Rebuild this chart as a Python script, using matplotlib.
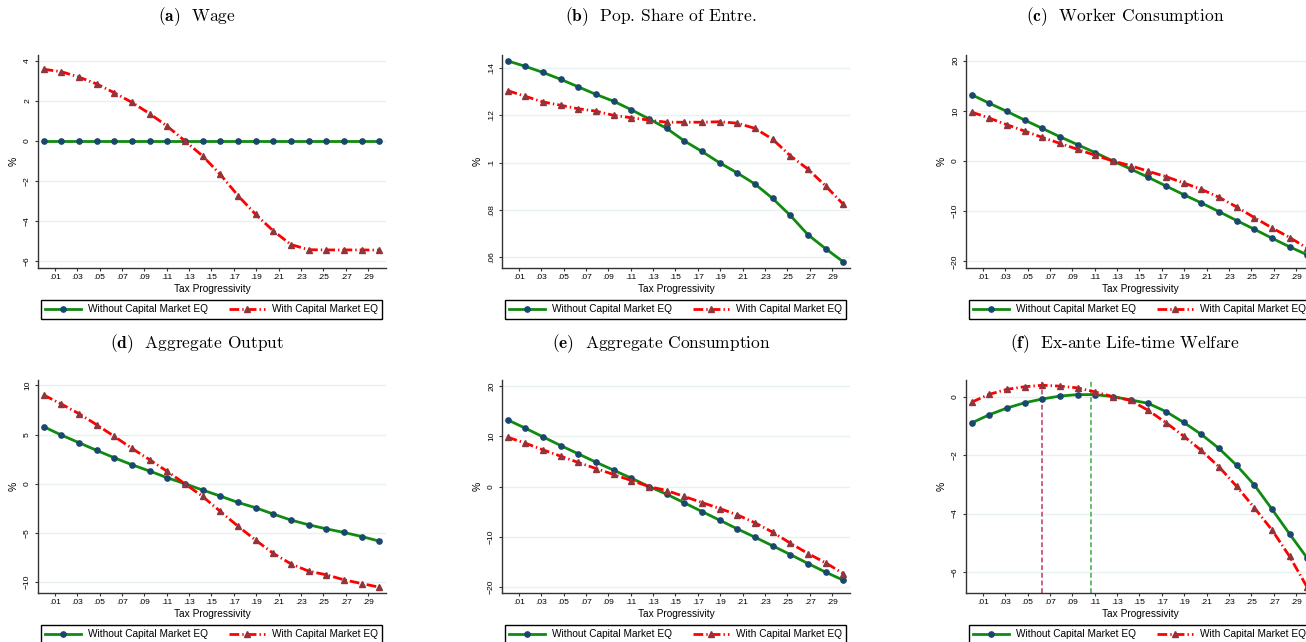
import matplotlib
matplotlib.use("Agg")
import matplotlib.pyplot as plt
import numpy as np

plt.rcParams['font.family'] = ['Liberation Sans', 'DejaVu Sans']
plt.rcParams['mathtext.fontset'] = 'cm'
plt.rcParams['lines.scale_dashes'] = False

# Tax progressivity grid (20 points from 0 to .3)
tax = np.linspace(0, 0.3, 20)
xtick_vals = [.01, .03, .05, .07, .09, .11, .13, .15, .17, .19, .21, .23, .25, .27, .29]
xtick_labels = ['.01', '.03', '.05', '.07', '.09', '.11', '.13', '.15', '.17', '.19',
                '.21', '.23', '.25', '.27', '.29']

# (a) Wage
wage_no = [0.0] * 20
wage_eq = [3.57, 3.45, 3.18, 2.84, 2.40, 1.92, 1.36, 0.73, 0.0, -0.75,
           -1.67, -2.72, -3.66, -4.48, -5.16, -5.42, -5.43, -5.43, -5.43, -5.44]

# (b) Pop. share of entrepreneurs
share_no = [.1431, .1408, .1382, .1353, .1321, .1289, .1260, .1224, .1185, .1145,
            .1092, .1047, .0999, .0956, .0909, .0848, .0776, .0694, .0635, .0579]
share_eq = [.1305, .1281, .1257, .1243, .1228, .1218, .1200, .1190, .1180, .1171,
            .1171, .1171, .1173, .1167, .1145, .1099, .1029, .0972, .0901, .0823]

# (c) Worker consumption
wcons_no = [13.2, 11.5, 9.87, 8.15, 6.49, 4.83, 3.25, 1.66, 0.0, -1.59,
            -3.25, -4.97, -6.69, -8.34, -10.07, -11.85, -13.58, -15.36, -17.09, -18.68]
wcons_eq = [9.74, 8.54, 7.22, 5.96, 4.70, 3.51, 2.32, 1.13, 0.0, -0.93,
            -2.05, -3.11, -4.37, -5.63, -7.22, -9.14, -11.26, -13.31, -15.23, -17.35]

# (d) Aggregate output
output_no = [5.80, 4.95, 4.17, 3.39, 2.64, 1.93, 1.29, 0.61, 0.0, -0.64,
             -1.25, -1.90, -2.44, -3.08, -3.69, -4.17, -4.58, -4.95, -5.36, -5.83]
output_eq = [9.02, 8.10, 7.12, 6.00, 4.81, 3.59, 2.44, 1.25, 0.0, -1.29,
             -2.81, -4.31, -5.73, -7.08, -8.14, -8.88, -9.25, -9.76, -10.14, -10.51]

# (e) Aggregate consumption
acons_no = [13.27, 11.61, 9.89, 8.16, 6.50, 4.84, 3.25, 1.66, 0.0, -1.53,
            -3.25, -4.98, -6.70, -8.43, -10.09, -11.81, -13.54, -15.33, -17.05, -18.65]
acons_eq = [9.82, 8.63, 7.30, 6.04, 4.78, 3.58, 2.39, 1.19, 0.0, -0.80,
            -1.99, -3.19, -4.38, -5.64, -7.23, -9.09, -11.28, -13.34, -15.20, -17.32]

# (f) Ex-ante life-time welfare
welf_no = [-0.90, -0.62, -0.39, -0.21, -0.08, 0.02, 0.07, 0.07, 0.0, -0.11,
           -0.23, -0.51, -0.88, -1.29, -1.77, -2.35, -3.02, -3.85, -4.70, -5.53]
welf_eq = [-0.19, 0.08, 0.25, 0.34, 0.39, 0.36, 0.30, 0.16, 0.0, -0.13,
           -0.47, -0.89, -1.35, -1.84, -2.40, -3.07, -3.80, -4.56, -5.47, -6.53]
opt_eq = 0.063
opt_no = 0.107

panels = [
    ('(a)', 'Wage', wage_no, wage_eq, [4, 2, 0, -2, -4, -6],
     ['4', '2', '0', '\u22122', '\u22124', '\u22126'], (-6.33, 4.28)),
    ('(b)', 'Pop. Share of Entre.', share_no, share_eq, [.14, .12, .1, .08, .06],
     ['.14', '.12', '.1', '.08', '.06'], (.0553, .1456)),
    ('(c)', 'Worker Consumption', wcons_no, wcons_eq, [20, 10, 0, -10, -20],
     ['20', '10', '0', '\u221210', '\u221220'], (-21.3, 21.1)),
    ('(d)', 'Aggregate Output', output_no, output_eq, [10, 5, 0, -5, -10],
     ['10', '5', '0', '\u22125', '\u221210'], (-11.1, 10.54)),
    ('(e)', 'Aggregate Consumption', acons_no, acons_eq, [20, 10, 0, -10, -20],
     ['20', '10', '0', '\u221210', '\u221220'], (-21.2, 21.2)),
    ('(f)', 'Ex-ante Life-time Welfare', welf_no, welf_eq, [0, -2, -4, -6],
     ['0', '\u22122', '\u22124', '\u22126'], (-6.72, 0.57)),
]

W, H = 1306, 642
fig = plt.figure(figsize=(W / 100, H / 100), dpi=100)

col_left = [38, 502, 966]
row_top = [55, 380]
ax_w, ax_h = 348, 213
title_y = [17, 344]

for i, (tag, name, ys_no, ys_eq, yt, ytl, ylim) in enumerate(panels):
    r, c = divmod(i, 3)
    left = col_left[c]
    top = row_top[r]
    ax = fig.add_axes([left / W, 1 - (top + ax_h) / H, ax_w / W, ax_h / H])

    for yv in yt:
        ax.axhline(yv, color='#e8f0f1', lw=1.0, zorder=0)

    if tag == '(f)':
        ax.axvline(opt_eq, color='#cc5577', lw=1.3, ls=(0, (3.5, 2)), zorder=1)
        ax.axvline(opt_no, color='#5cb85c', lw=1.3, ls=(0, (3.5, 2)), zorder=1)

    ax.plot(tax, ys_no, color='#108a10', lw=2.0, marker='o', ms=3.8,
            mfc='#1a476f', mec='#1a476f', zorder=3, label='Without Capital Market EQ')
    ax.plot(tax, ys_eq, color='#ff0000', lw=2.0, ls=(0, (7, 2.2, 1, 2.2)),
            marker='^', ms=4.2, mfc='#90353b', mec='#90353b', zorder=4,
            label='With Capital Market EQ')

    ax.set_xlim(-0.005, 0.306)
    ax.set_ylim(*ylim)
    ax.set_xticks(xtick_vals)
    ax.set_xticklabels(xtick_labels)
    ax.set_yticks(yt)
    ax.set_yticklabels(ytl, rotation=90, va='center')
    ax.tick_params(axis='both', length=2.5, width=0.8, color='#333333',
                   labelsize=6.1, pad=2)
    ax.tick_params(axis='y', pad=2.5)

    for s in ['top', 'right']:
        ax.spines[s].set_visible(False)
    for s in ['left', 'bottom']:
        ax.spines[s].set_color('#333333')
        ax.spines[s].set_linewidth(1.0)

    ax.set_xlabel('Tax Progressivity', fontsize=7.3)
    ax.xaxis.set_label_coords(0.5, -24 / ax_h)
    ax.xaxis.label.set_va('baseline')
    ax.set_ylabel('%', fontsize=7.5)
    ax.yaxis.set_label_coords(-24 / ax_w, 0.5)
    ax.yaxis.label.set_va('center')

    ax.legend(loc='center', bbox_to_anchor=(0.009, -0.239, 0.98, 0.089),
              mode='expand', ncol=2, fontsize=7.3, frameon=True, fancybox=False,
              edgecolor='black', framealpha=1, borderaxespad=0, borderpad=0.42,
              handlelength=3.5, handletextpad=0.7, numpoints=1)
    ax.get_legend().get_frame().set_linewidth(1.0)

    # panel title, centred a bit left of the axes centre
    fig.text((left + ax_w / 2 - 15) / W, 1 - title_y[r] / H,
             r'$\mathbf{' + tag + '}$  ' + name, family='cmr10',
             fontsize=12.5, ha='center', va='center')

fig.savefig('out.png', dpi=100)
